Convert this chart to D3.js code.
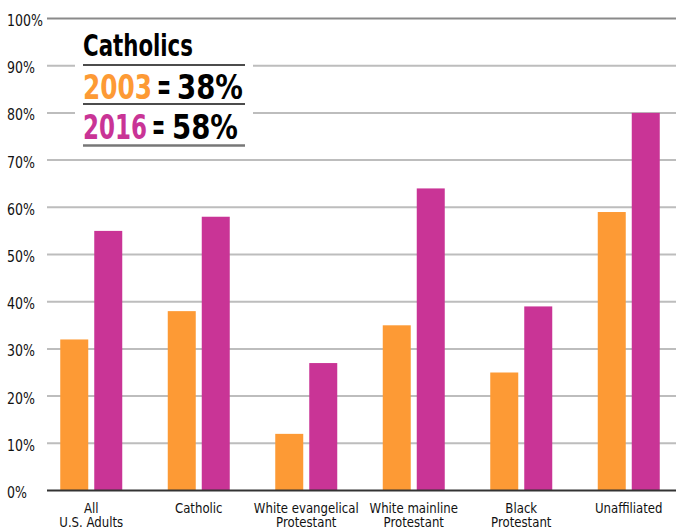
<!DOCTYPE html>
<html>
<head>
<meta charset="utf-8">
<script src="https://cdn.jsdelivr.net/npm/d3@7"></script>
<style>
  html, body { margin: 0; padding: 0; background: #fff; }
  svg { display: block; }
  text { font-family: "Liberation Sans Narrow", "Arial Narrow", "DejaVu Sans Condensed", sans-serif; }
</style>
</head>
<body>
<svg id="chart" width="676" height="530"></svg>
<script>
// Share of adults in each group, 2003 vs 2016
const categories = ["All\nU.S. Adults", "Catholic", "White evangelical\nProtestant",
                    "White mainline\nProtestant", "Black\nProtestant", "Unaffiliated"];
const years = ["2003", "2016"];
const values2003 = [32, 38, 12, 35, 25, 59];
const values2016 = [55, 58, 27, 64, 39, 80];
const yTicks = [0, 10, 20, 30, 40, 50, 60, 70, 80, 90, 100];
const highlight = { name: "Catholics", v2003: 38, v2016: 58 };
const colors = { "2003": "#fd9a35", "2016": "#c93496" };

const svg = d3.select("#chart");
const W = 676;

// Squeeze text horizontally so it reads like a narrow typeface
function condense(sel, k) {
  sel.each(function () {
    const w = this.getComputedTextLength();
    d3.select(this).attr("textLength", w * k).attr("lengthAdjust", "spacingAndGlyphs");
  });
}
// Place a text at (x, baseline) and scale it horizontally to a given width
function fitText(parent, str, x0, base, width, size, fill) {
  const t = parent.append("text")
    .attr("font-size", size).attr("font-weight", "bold").attr("fill", fill)
    .text(str);
  const w = t.node().getComputedTextLength();
  t.attr("transform", `translate(${x0},${base}) scale(${width / w},1)`);
  return t;
}

const y = d3.scaleLinear().domain([0, 100]).range([490.5, 18.5]);
const x = d3.scaleBand().domain(categories).range([37.5, 682.5]).padding(0);
const barW = 28, barGap = 6;
const xSub = d3.scaleOrdinal().domain(years)
  .range([-(barW + barGap / 2), barGap / 2]);

// Gridlines
const grid = svg.append("g");
grid.selectAll("line").data(yTicks.filter(d => d > 0)).join("line")
  .attr("x1", 47).attr("x2", W)
  .attr("y1", d => y(d)).attr("y2", d => y(d))
  .attr("stroke", d => d === 100 ? "#8a8a8a" : "#bdbdbd")
  .attr("stroke-width", 2);

// Y tick labels
const yLabels = svg.append("g").selectAll("text").data(yTicks).join("text")
  .attr("x", 7).attr("y", d => y(d) + 7.5)
  .attr("font-size", 15.5).attr("fill", "#111")
  .text(d => d + "%");
condense(yLabels, 0.9);

// Bars
const rows = categories.map((c, i) => ({ c, v: { "2003": values2003[i], "2016": values2016[i] } }));
const groups = svg.append("g").selectAll("g").data(rows).join("g")
  .attr("transform", d => `translate(${x(d.c) + x.bandwidth() / 2},0)`);
groups.selectAll("rect").data(d => years.map(yr => ({ yr, v: d.v[yr] }))).join("rect")
  .attr("x", d => xSub(d.yr))
  .attr("width", barW)
  .attr("y", d => y(d.v))
  .attr("height", d => y(0) - y(d.v))
  .attr("fill", d => colors[d.yr]);

// Baseline
svg.append("line").attr("x1", 47).attr("x2", W)
  .attr("y1", y(0)).attr("y2", y(0))
  .attr("stroke", "#333").attr("stroke-width", 2);

// Category labels
const catLines = groups.append("text")
  .attr("text-anchor", "middle")
  .attr("font-size", 14.5).attr("fill", "#111")
  .selectAll("tspan").data(d => d.c.split("\n")).join("tspan")
  .attr("x", 0)
  .attr("y", (d, i) => 512.5 + i * 14)
  .text(d => d);
condense(catLines, 0.9);

// Highlight box
const box = svg.append("g");
box.append("rect").attr("x", 75).attr("y", 26).attr("width", 178).attr("height", 126).attr("fill", "#fff");
fitText(box, highlight.name, 83, 56, 110, 31, "#000");
box.append("line").attr("x1", 83).attr("x2", 245).attr("y1", 65).attr("y2", 65)
  .attr("stroke", "#111").attr("stroke-width", 1.5);

// One line of the box: "<year> = <value>%"
function row(yr, val, baseY, pos) {
  fitText(box, yr, pos[0], baseY, pos[1], 34.5, colors[yr]);
  fitText(box, "=", pos[2], baseY, pos[3], 38, "#000");
  fitText(box, val + "%", pos[4], baseY, pos[5], 34.5, "#000");
}
row("2003", highlight.v2003, 99, [83, 69, 157, 14, 177, 66]);
box.append("line").attr("x1", 83).attr("x2", 245).attr("y1", 104).attr("y2", 104)
  .attr("stroke", "#111").attr("stroke-width", 1.5);
row("2016", highlight.v2016, 139, [83, 64, 152, 13, 172, 66]);
box.append("line").attr("x1", 83).attr("x2", 245).attr("y1", 145.5).attr("y2", 145.5)
  .attr("stroke", "#777").attr("stroke-width", 2.5);
</script>
</body>
</html>
